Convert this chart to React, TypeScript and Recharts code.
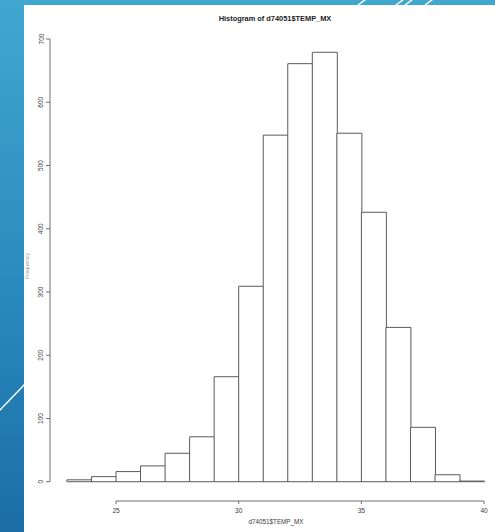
import React from 'react';
import { BarChart, Bar, XAxis, YAxis } from 'recharts';

// Histogram bins (1 °C wide) of d74051$TEMP_MX
const binStarts = [23, 24, 25, 26, 27, 28, 29, 30, 31, 32, 33, 34, 35, 36, 37, 38, 39];
const frequencies = [3, 8, 16, 25, 45, 71, 166, 309, 548, 661, 679, 551, 426, 244, 86, 11, 1];
const xTicks = [25, 30, 35, 40];
const yTicks = [0, 100, 200, 300, 400, 500, 600, 700];
const title = 'Histogram of d74051$TEMP_MX';
const xLabel = 'd74051$TEMP_MX';
const yLabel = 'Frequency';

const data = binStarts.map((s, i) => ({ x: s + 0.5, count: frequencies[i] }));

const FONT = '"Liberation Sans", Arial, Helvetica, sans-serif';
const AXIS = '#6e6e6e';
const TEXT = '#3a3a3a';

const XTick = (props: any) => {
  const { x, y, payload } = props;
  return (
    <text x={x} y={y + 4} textAnchor="middle" dominantBaseline="central" fontSize={6.5} fill={TEXT} fontFamily={FONT}>
      {payload.value}
    </text>
  );
};

const YTick = (props: any) => {
  const { x, y, payload } = props;
  const cx = x - 3;
  return (
    <text x={cx} y={y} transform={`rotate(-90 ${cx} ${y})`} textAnchor="middle" dominantBaseline="central" fontSize={6.5} fill={TEXT} fontFamily={FONT}>
      {payload.value}
    </text>
  );
};

export default function App() {
  return (
    <div style={{ position: 'absolute', left: 0, top: 0, width: 495, height: 532, overflow: 'hidden', background: 'linear-gradient(180deg, #41a7cf 0%, #2b8cbf 50%, #1b6ea6 100%)' }}>
      <svg width={495} height={532} style={{ position: 'absolute', left: 0, top: 0 }}>
        <line x1={357} y1={6} x2={366} y2={-1} stroke="#ffffff" strokeWidth={1.5} />
        <line x1={395} y1={6} x2={404} y2={-1} stroke="#ffffff" strokeWidth={1.5} />
        <line x1={404} y1={6} x2={413} y2={-1} stroke="#ffffff" strokeWidth={1.5} />
        <line x1={424} y1={6} x2={433} y2={-1} stroke="#ffffff" strokeWidth={1.5} />
        <line x1={-1} y1={411} x2={25} y2={384} stroke="#ffffff" strokeWidth={1.5} />
      </svg>
      <div style={{ position: 'absolute', left: 24, top: 5, width: 471, height: 527, background: '#ffffff' }} />
      <div style={{ position: 'absolute', left: 0, top: 0 }}>
        <BarChart
          width={501}
          height={532}
          data={data}
          margin={{ top: 39, right: 0, bottom: 0, left: 20 }}
          barCategoryGap={0}
          barGap={0}
        >
          <XAxis
            dataKey="x"
            type="number"
            domain={[22.31, 40.69]}
            allowDataOverflow
            ticks={xTicks}
            interval={0}
            height={31}
            tickSize={3}
            tickMargin={2}
            tick={<XTick />}
            tickLine={{ stroke: AXIS, strokeWidth: 1 }}
            axisLine={{ stroke: AXIS, strokeWidth: 1, strokeDasharray: '0 66 368 300' }}
          />
          <YAxis
            type="number"
            domain={[-30.5, 700]}
            allowDataOverflow
            ticks={yTicks}
            interval={0}
            width={30}
            tickSize={4}
            tickMargin={2}
            tick={<YTick />}
            tickLine={{ stroke: AXIS, strokeWidth: 1 }}
            axisLine={{ stroke: AXIS, strokeWidth: 1, strokeDasharray: '442.7 300' }}
          />
          <Bar dataKey="count" fill="#ffffff" stroke="#5a5a5a" strokeWidth={1} isAnimationActive={false} />
        </BarChart>
      </div>
      <div style={{ position: 'absolute', left: 175, top: 13, width: 200, textAlign: 'center', fontFamily: FONT, fontWeight: 'bold', fontSize: 7.4, lineHeight: '12px', color: '#222' }}>
        {title}
      </div>
      <div style={{ position: 'absolute', left: 176, top: 516, width: 200, textAlign: 'center', fontFamily: FONT, fontSize: 6.3, lineHeight: '12px', color: TEXT }}>
        {xLabel}
      </div>
      <div style={{ position: 'absolute', left: 27, top: 266, width: 0, height: 0 }}>
        <div style={{ position: 'absolute', left: -30, top: -6, width: 60, textAlign: 'center', transform: 'rotate(-90deg)', fontFamily: FONT, fontSize: 5.5, lineHeight: '12px', color: '#9a9a9a' }}>
          {yLabel}
        </div>
      </div>
    </div>
  );
}
